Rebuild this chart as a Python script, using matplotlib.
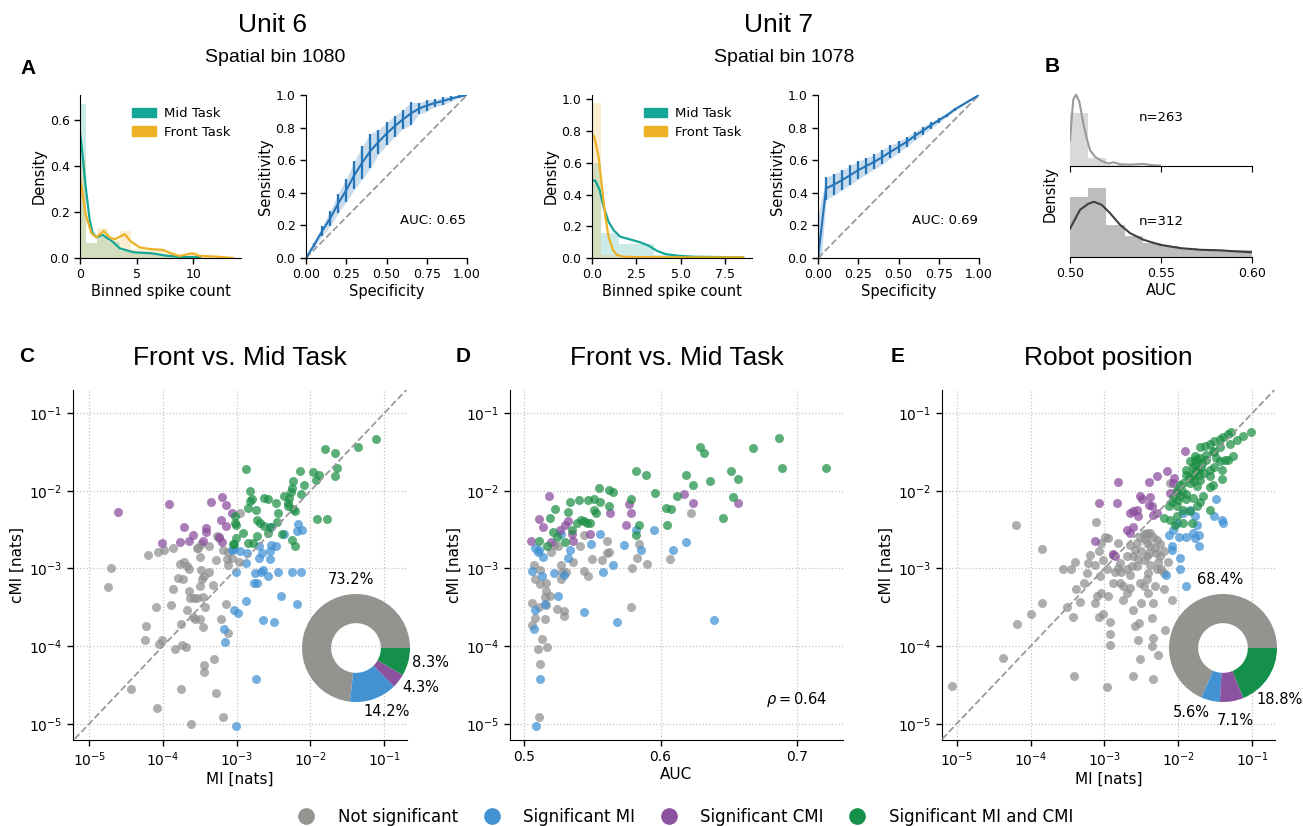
import numpy as np
import matplotlib
matplotlib.use("Agg")
import matplotlib.pyplot as plt
from matplotlib.patches import Patch
from matplotlib.lines import Line2D
from matplotlib.ticker import LogLocator, NullLocator, NullFormatter

plt.rcParams['font.family'] = 'DejaVu Sans'

# ---------------- data: panel A, unit 6 ----------------
u6_bins = [0, 1, 2, 3, 4, 5, 6, 7, 8, 9, 10, 11, 12, 13]
u6_mid_hist = [0.67, 0.065, 0.09, 0.07, 0.03, 0.02, 0.02, 0.015, 0.01, 0.005, 0.005, 0.0, 0.0, 0.0]
u6_front_hist = [0.43, 0.065, 0.13, 0.08, 0.115, 0.04, 0.035, 0.04, 0.02, 0.01, 0.025, 0.005, 0.005, 0.003]
u6_mid_kde_x = [0, 0.2, 0.5, 0.85, 1.1, 1.44, 2.0, 2.9, 3.5, 4.7, 6.4, 7.6, 9.1, 10.6]
u6_mid_kde_y = [0.545, 0.46, 0.31, 0.165, 0.11, 0.09, 0.10, 0.07, 0.042, 0.025, 0.02, 0.01, 0.004, 0.004]
u6_front_kde_x = [0, 0.5, 1.0, 1.44, 2.09, 2.62, 3.06, 3.94, 4.53, 5.26, 6.15, 7.32, 8.21, 8.79, 9.88, 10.56, 12.03, 13.5]
u6_front_kde_y = [0.35, 0.19, 0.107, 0.09, 0.117, 0.09, 0.081, 0.103, 0.07, 0.046, 0.039, 0.035, 0.017, 0.009, 0.02, 0.009, 0.006, 0.0]

roc_x = [0.0, 0.05, 0.1, 0.15, 0.2, 0.25, 0.3, 0.35, 0.4, 0.45, 0.5,
         0.55, 0.6, 0.65, 0.7, 0.75, 0.8, 0.85, 0.9, 0.95, 1.0]
roc6_y = [0.0, 0.08, 0.165, 0.243, 0.335, 0.416, 0.508, 0.586, 0.657, 0.712, 0.763,
          0.808, 0.849, 0.886, 0.916, 0.935, 0.951, 0.963, 0.978, 0.99, 1.0]
roc6_err = [0.0, 0.015, 0.03, 0.046, 0.06, 0.07, 0.087, 0.10, 0.106, 0.075, 0.07,
            0.064, 0.058, 0.07, 0.035, 0.035, 0.022, 0.023, 0.017, 0.007, 0.0]
auc6 = 0.65

# ---------------- data: panel A, unit 7 ----------------
u7_bins = [0, 1, 2, 3, 4, 5, 6, 7, 8]
u7_mid_hist = [0.60, 0.155, 0.088, 0.088, 0.02, 0.008, 0.004, 0.003, 0.002]
u7_front_hist = [0.977, 0.02, 0.005, 0.0, 0.0, 0.0, 0.0, 0.0, 0.0]
u7_mid_kde_x = [0, 0.19, 0.43, 0.65, 0.93, 1.21, 1.59, 2.15, 2.71, 3.18, 3.64, 4.11, 4.77, 5.7, 7.2, 8.5]
u7_mid_kde_y = [0.49, 0.486, 0.428, 0.323, 0.229, 0.176, 0.134, 0.117, 0.099, 0.078, 0.046, 0.025, 0.015, 0.008, 0.006, 0.004]
u7_front_kde_x = [0, 0.13, 0.37, 0.56, 0.75, 0.93, 1.18, 1.4, 1.78, 2.5, 5.3, 8.5]
u7_front_kde_y = [0.778, 0.763, 0.637, 0.449, 0.26, 0.134, 0.05, 0.019, 0.008, 0.006, 0.004, 0.004]

roc7_y = [0.0, 0.427, 0.451, 0.478, 0.508, 0.539, 0.565, 0.59, 0.62, 0.651, 0.682,
          0.712, 0.749, 0.78, 0.814, 0.845, 0.876, 0.912, 0.941, 0.971, 1.0]
roc7_err = [0.26, 0.07, 0.065, 0.06, 0.06, 0.055, 0.05, 0.045, 0.045, 0.04, 0.035,
            0.03, 0.025, 0.025, 0.02, 0.015, 0.01, 0.01, 0.005, 0.003, 0.0]
auc7 = 0.69

# ---------------- data: panel B ----------------
b_edges = [0.50, 0.51, 0.52, 0.53, 0.54, 0.55, 0.56, 0.57, 0.58, 0.59]
b_top_hist = [82, 13, 1.5, 0.5, 0.5, 0.2, 0.0, 0.0, 0.0, 0.0]
b_top_kde_x = [0.5, 0.5018, 0.5033, 0.5051, 0.5073, 0.5092, 0.5110, 0.5138, 0.5174,
               0.5211, 0.5239, 0.5275, 0.5330, 0.5404, 0.5459, 0.5495]
b_top_kde_y = [39.7, 101.7, 109.4, 99, 65.5, 42.3, 24.3, 13.9, 7.7, 3.6, 5.7, 2.6, 2.1, 3.1, 1.0, 0.5]
b_bot_hist = [21.5, 25, 11.6, 7.4, 5.0, 3.8, 3.2, 3.0, 2.6, 2.4]
b_bot_kde_x = [0.5, 0.5055, 0.5101, 0.5132, 0.5174, 0.522, 0.5275, 0.533, 0.5404,
               0.5495, 0.5606, 0.5716, 0.5826, 0.5917, 0.6]
b_bot_kde_y = [10.2, 17.0, 19.2, 19.9, 18.8, 15.8, 11.6, 8.6, 6.2, 4.4, 3.2, 2.6, 2.4, 2.0, 1.7]
b_n = [263, 312]

# ---------------- data: panel C (log10 MI, log10 cMI) ----------------
c_gray = [(-2.95, -2.29), (-4.20, -2.82), (-4.07, -2.79), (-3.98, -2.76), (-3.87, -2.73),
          (-3.54, -2.74), (-3.38, -2.71), (-3.50, -2.85), (-3.28, -2.89), (-3.13, -2.88),
          (-3.07, -2.87), (-2.97, -2.91), (-3.12, -2.96), (-4.71, -2.99), (-4.74, -3.24),
          (-3.77, -2.94), (-3.71, -2.91), (-3.68, -2.97), (-3.65, -3.01), (-3.48, -3.02),
          (-3.38, -3.04), (-3.44, -3.10), (-3.47, -3.14), (-3.79, -3.12), (-3.73, -3.14),
          (-3.86, -3.27), (-3.64, -3.29), (-3.32, -3.21), (-3.50, -3.22), (-3.63, -3.38),
          (-3.58, -3.38), (-3.54, -3.38), (-3.46, -3.37), (-4.09, -3.49), (-3.89, -3.47),
          (-3.43, -3.50), (-3.15, -3.46), (-3.67, -3.54), (-3.59, -3.62), (-3.56, -3.65),
          (-3.50, -3.65), (-3.76, -3.72), (-3.46, -3.76), (-4.23, -3.74), (-3.21, -3.65),
          (-3.12, -3.83), (-4.24, -3.92), (-4.06, -3.97), (-4.01, -3.92), (-3.84, -4.04),
          (-3.74, -3.99), (-3.69, -4.01), (-3.31, -4.17), (-3.44, -4.24), (-3.45, -4.33),
          (-4.43, -4.55), (-3.75, -4.55), (-3.28, -4.60), (-4.08, -4.80), (-3.62, -5.00),
          (-3.19, -4.91), (-3.18, -2.76), (-3.12, -2.79), (-3.27, -2.58), (-3.24, -2.61),
          (-3.49, -2.68), (-3.53, -2.73)]
c_blue = [(-2.17, -2.43), (-2.18, -2.52), (-2.11, -2.50), (-2.36, -2.56), (-2.54, -2.47),
          (-2.53, -2.70), (-2.46, -2.71), (-2.65, -2.80), (-2.55, -2.77), (-2.55, -2.88),
          (-2.70, -2.71), (-2.86, -2.80), (-2.70, -2.86), (-2.96, -2.78), (-3.07, -2.76),
          (-3.04, -2.75), (-2.88, -2.93), (-3.01, -3.04), (-2.75, -3.06), (-2.67, -3.05),
          (-2.64, -3.02), (-2.58, -3.10), (-2.44, -3.04), (-2.25, -3.04), (-2.13, -3.05),
          (-2.77, -3.19), (-2.72, -3.19), (-2.40, -3.35), (-2.18, -3.46), (-2.88, -3.42),
          (-3.04, -3.54), (-2.98, -3.57), (-2.64, -3.66), (-2.50, -3.69), (-3.17, -3.78),
          (-3.16, -3.95), (-2.74, -4.43), (-3.01, -5.03)]
c_purple = [(-4.61, -2.27), (-3.92, -2.17), (-3.35, -2.14), (-3.20, -2.08), (-3.14, -2.18),
            (-3.06, -2.29), (-3.21, -2.37), (-3.15, -2.45), (-3.72, -2.47), (-3.42, -2.48),
            (-3.59, -2.57), (-3.41, -2.53), (-4.01, -2.67), (-3.77, -2.66), (-3.64, -2.65),
            (-3.46, -2.64), (-3.24, -2.59), (-3.20, -2.66)]
c_green = [(-1.11, -1.33), (-1.80, -1.46), (-1.66, -1.51), (-1.35, -1.44), (-2.88, -1.72),
           (-2.14, -1.75), (-1.96, -1.76), (-1.88, -1.80), (-1.64, -1.71), (-1.93, -1.86),
           (-1.66, -1.81), (-2.23, -1.87), (-2.09, -1.93), (-2.25, -1.96), (-2.27, -2.01),
           (-2.13, -2.04), (-2.36, -2.07), (-2.29, -2.09), (-2.82, -2.00), (-2.82, -2.13),
           (-2.79, -2.11), (-2.85, -2.22), (-2.63, -2.09), (-2.57, -2.11), (-2.47, -2.15),
           (-2.30, -2.16), (-2.30, -2.20), (-2.23, -2.23), (-2.21, -2.26), (-2.74, -2.25),
           (-2.44, -2.29), (-2.73, -2.38), (-2.69, -2.42), (-3.02, -2.32), (-3.02, -2.41),
           (-3.01, -2.44), (-2.63, -2.45), (-2.55, -2.47), (-2.45, -2.40), (-1.91, -2.36),
           (-1.77, -2.36), (-2.91, -2.54), (-2.73, -2.58), (-2.57, -2.54), (-2.38, -2.56),
           (-2.25, -2.63), (-2.21, -2.71), (-3.01, -2.61), (-3.03, -2.68), (-3.05, -2.69),
           (-2.84, -2.67), (-2.78, -2.67)]
c_pie = [73.2, 14.2, 4.3, 8.3]

# ---------------- data: panel D (AUC, log10 cMI) ----------------
d_gray = [(0.507, -2.96), (0.512, -3.02), (0.508, -3.13), (0.512, -3.20), (0.516, -3.19),
          (0.516, -3.29), (0.519, -3.36), (0.515, -3.37), (0.516, -3.47), (0.511, -3.49),
          (0.506, -3.45), (0.508, -3.64), (0.506, -3.73), (0.515, -3.65), (0.513, -3.91),
          (0.510, -4.04), (0.517, -4.01), (0.512, -4.23), (0.511, -4.91), (0.520, -2.79),
          (0.525, -2.71), (0.527, -2.96), (0.528, -3.04), (0.527, -3.14), (0.531, -3.04),
          (0.524, -3.52), (0.529, -3.55), (0.529, -3.61), (0.536, -2.91), (0.541, -2.71),
          (0.544, -2.57), (0.550, -2.88), (0.544, -3.03), (0.547, -3.10), (0.557, -2.89),
          (0.561, -2.80), (0.561, -2.65), (0.562, -2.79), (0.579, -3.00), (0.578, -3.50),
          (0.583, -2.87), (0.584, -2.68), (0.590, -2.94), (0.607, -2.88), (0.622, -2.29),
          (0.522, -2.70)]
d_blue = [(0.508, -2.74), (0.511, -2.76), (0.510, -2.79), (0.514, -2.85), (0.527, -2.56),
          (0.534, -2.76), (0.532, -2.87), (0.549, -2.68), (0.556, -2.55), (0.573, -2.70),
          (0.582, -2.50), (0.586, -2.76), (0.595, -2.51), (0.609, -2.76), (0.619, -2.66),
          (0.565, -2.95), (0.558, -3.05), (0.506, -3.03), (0.513, -3.10), (0.522, -3.06),
          (0.529, -3.08), (0.525, -3.35), (0.515, -3.46), (0.508, -3.54), (0.507, -3.78),
          (0.544, -3.56), (0.568, -3.69), (0.639, -3.66), (0.512, -4.42), (0.509, -5.03)]
d_purple = [(0.518, -2.07), (0.511, -2.36), (0.514, -2.47), (0.505, -2.64), (0.532, -2.39),
            (0.530, -2.44), (0.526, -2.50), (0.520, -2.66), (0.536, -2.65), (0.535, -2.55),
            (0.548, -2.56), (0.563, -2.28), (0.577, -2.17), (0.578, -2.28), (0.575, -2.44),
            (0.617, -2.04), (0.624, -2.15), (0.657, -2.16)]
d_green = [(0.6866, -1.32), (0.668, -1.45), (0.6286, -1.44), (0.632, -1.51), (0.689, -1.70),
           (0.7213, -1.71), (0.582, -1.74), (0.589, -1.80), (0.619, -1.79), (0.652, -1.75),
           (0.657, -1.85), (0.636, -1.87), (0.624, -1.92), (0.555, -1.96), (0.562, -1.99),
           (0.565, -2.02), (0.596, -2.03), (0.612, -2.06), (0.578, -2.10), (0.653, -2.08),
           (0.551, -2.10), (0.547, -2.12), (0.540, -2.12), (0.534, -2.14), (0.556, -2.14),
           (0.562, -2.19), (0.551, -2.24), (0.553, -2.28), (0.532, -2.27), (0.523, -2.23),
           (0.604, -2.22), (0.608, -2.23), (0.519, -2.35), (0.539, -2.41), (0.542, -2.38),
           (0.544, -2.39), (0.546, -2.41), (0.548, -2.42), (0.584, -2.44), (0.605, -2.44),
           (0.646, -2.35), (0.521, -2.53), (0.535, -2.51), (0.582, -2.57), (0.524, -2.59),
           (0.530, -2.66), (0.511, -2.65), (0.517, -2.71)]
d_rho = 0.64

# ---------------- data: panel E (log10 MI, log10 cMI) ----------------
e_gray = [(-5.06, -4.51), (-4.20, -2.44), (-3.84, -2.75), (-4.37, -4.15), (-4.19, -3.72),
          (-3.99, -3.59), (-3.84, -3.44), (-3.41, -4.39), (-2.97, -4.53), (-3.56, -3.01),
          (-3.45, -3.01), (-3.40, -2.92), (-3.39, -3.26), (-3.42, -3.62), (-3.33, -3.43),
          (-3.51, -3.49), (-3.28, -3.19), (-3.24, -3.06), (-3.22, -2.93), (-3.20, -2.82),
          (-3.13, -2.95), (-3.11, -2.40), (-3.08, -2.78), (-3.04, -2.67), (-2.99, -2.59),
          (-2.95, -2.61), (-3.02, -2.89), (-3.06, -3.10), (-3.07, -3.62), (-3.13, -3.44),
          (-3.10, -3.36), (-3.04, -3.32), (-3.02, -3.59), (-2.95, -3.36), (-2.93, -3.69),
          (-2.93, -3.84), (-2.93, -3.98), (-2.88, -2.82), (-2.86, -3.04), (-2.81, -2.67),
          (-2.81, -2.99), (-2.79, -3.19), (-2.77, -3.04), (-2.75, -3.23), (-2.75, -3.40),
          (-2.69, -3.31), (-2.66, -3.25), (-2.66, -3.08), (-2.63, -2.97), (-2.61, -2.84),
          (-2.59, -2.76), (-2.56, -2.67), (-2.52, -2.59), (-2.47, -2.56), (-2.43, -2.54),
          (-2.38, -2.54), (-2.34, -2.59), (-2.29, -2.63), (-2.25, -2.69), (-2.20, -2.78),
          (-2.61, -3.53), (-2.59, -3.74), (-2.54, -3.92), (-2.52, -4.17), (-2.50, -3.44),
          (-2.47, -3.23), (-2.43, -3.14), (-2.41, -3.06), (-2.38, -2.95), (-2.36, -3.64),
          (-2.34, -3.44), (-2.32, -3.23), (-2.29, -3.01), (-2.27, -2.91), (-2.25, -2.84),
          (-2.23, -3.01), (-2.20, -3.27), (-2.18, -3.79), (-2.34, -3.89), (-2.36, -4.00),
          (-2.43, -2.84), (-2.47, -2.89), (-2.50, -2.78), (-2.56, -2.97), (-2.70, -2.84),
          (-2.61, -4.39), (-2.34, -4.43), (-2.28, -4.12), (-2.38, -2.71), (-2.32, -2.74),
          (-2.70, -3.01), (-2.79, -2.93), (-2.88, -3.19), (-2.97, -3.01), (-2.53, -3.70),
          (-2.09, -3.41), (-2.19, -3.06), (-2.14, -2.91), (-2.43, -2.67), (-2.52, -3.19),
          (-2.41, -3.32), (-2.11, -1.90), (-2.45, -2.62), (-2.40, -2.80), (-2.55, -2.88),
          (-2.30, -2.80), (-2.65, -2.70)]
e_blue = [(-1.49, -2.11), (-1.52, -2.32), (-1.41, -2.38), (-1.39, -2.41), (-1.78, -2.33),
          (-1.75, -2.44), (-1.80, -2.54), (-1.72, -2.57), (-1.78, -2.61), (-1.72, -2.71),
          (-1.89, -2.59), (-1.99, -2.60), (-2.12, -2.57), (-2.07, -2.50), (-2.02, -2.41),
          (-2.09, -2.71), (-2.08, -2.76), (-1.98, -2.87), (-1.97, -3.01), (-2.17, -3.09),
          (-1.89, -3.23), (-1.93, -2.29), (-1.84, -2.24)]
e_purple = [(-1.91, -1.48), (-2.82, -1.88), (-3.07, -2.16), (-2.83, -2.16), (-3.13, -2.64),
            (-2.39, -1.88), (-2.29, -1.81), (-2.15, -1.74), (-2.06, -1.83), (-2.52, -2.07),
            (-2.49, -2.11), (-2.38, -2.08), (-2.35, -2.19), (-2.39, -2.18), (-2.66, -2.29),
            (-2.61, -2.26), (-2.56, -2.24), (-2.54, -2.33), (-2.34, -2.31), (-2.29, -2.29),
            (-2.70, -2.50), (-2.66, -2.54), (-2.61, -2.46), (-2.86, -2.84), (-2.89, -2.81),
            (-2.07, -1.90), (-2.02, -2.01), (-2.11, -2.03)]
e_green = [(-1.02, -1.24), (-1.12, -1.29), (-1.21, -1.34), (-1.28, -1.24), (-1.32, -1.27),
           (-1.39, -1.30), (-1.44, -1.33), (-1.51, -1.36), (-1.57, -1.39), (-1.64, -1.42),
           (-1.71, -1.44), (-1.43, -1.43), (-1.53, -1.49), (-1.63, -1.54), (-1.71, -1.57),
           (-1.78, -1.60), (-1.84, -1.62), (-1.80, -1.69), (-1.73, -1.73), (-1.65, -1.77),
           (-1.57, -1.73), (-1.41, -1.73), (-1.32, -1.60), (-1.43, -1.62), (-1.51, -1.69),
           (-1.57, -1.81), (-1.41, -1.85), (-1.53, -1.92), (-1.57, -1.95), (-1.71, -1.86),
           (-1.80, -1.81), (-1.89, -1.79), (-1.84, -1.90), (-1.93, -1.90), (-1.98, -1.92),
           (-1.75, -1.94), (-1.66, -2.07), (-1.80, -2.09), (-1.89, -2.11), (-1.98, -2.07),
           (-2.07, -2.09), (-2.12, -2.20), (-2.02, -2.20), (-1.93, -2.24), (-1.84, -2.26),
           (-1.75, -2.20), (-1.71, -2.14), (-1.57, -2.24), (-2.20, -2.35), (-2.11, -2.37),
           (-2.02, -2.33), (-1.93, -2.41), (-2.05, -2.44), (-1.82, -2.41), (-1.51, -1.50),
           (-1.30, -1.39), (-1.26, -1.55), (-1.37, -1.60), (-1.49, -1.57), (-1.74, -1.59),
           (-1.69, -1.69), (-1.89, -1.73), (-2.02, -1.99), (-2.09, -2.14), (-1.78, -1.66),
           (-1.76, -1.75), (-1.82, -1.78), (-1.86, -1.84), (-1.79, -1.87), (-1.72, -1.80),
           (-1.68, -1.64), (-1.77, -1.55), (-1.62, -1.60), (-1.95, -2.00), (-1.90, -2.04),
           (-2.00, -2.12)]
e_pie = [68.4, 5.6, 7.1, 18.8]

legend_labels = ['Not significant', 'Significant MI', 'Significant CMI', 'Significant MI and CMI']

# ---------------- style ----------------
TEAL = '#14a697'
ORANGE = '#edb125'
ROC_BLUE = '#2574b8'
cat_colors = ['#939490', '#4393d3', '#8b52a0', '#15904a']
sc_colors = ['#8f8f8f', '#3f90d4', '#8a4b9e', '#1d8f45']
TITLE_FONT = 'Liberation Sans'

W, H = 1303, 826
fig = plt.figure(figsize=(W / 100, H / 100), dpi=100)


def px_axes(l, t, r, b):
    return fig.add_axes([l / W, 1 - b / H, (r - l) / W, (b - t) / H])


def px_text(x, y, s, **kw):
    fig.text(x / W, 1 - y / H, s, ha='center', va='center', **kw)


def clean(ax, size=9):
    ax.spines['top'].set_visible(False)
    ax.spines['right'].set_visible(False)
    ax.tick_params(labelsize=size, length=4, width=1, direction='out')


def hist_panel(ax, bins, mid_h, front_h, mid_kx, mid_ky, front_kx, front_ky, xlim, ylim, xticks, yticks, legend_anchor):
    ax.bar(bins, mid_h, width=1.0, color=TEAL, alpha=0.22, linewidth=0)
    ax.bar(bins, front_h, width=1.0, color=ORANGE, alpha=0.22, linewidth=0)
    ax.plot(mid_kx, mid_ky, color=TEAL, lw=1.6)
    ax.plot(front_kx, front_ky, color=ORANGE, lw=1.6)
    ax.set_xlim(*xlim)
    ax.set_ylim(*ylim)
    ax.set_xticks(xticks)
    ax.set_yticks(yticks)
    ax.set_xlabel('Binned spike count', fontsize=10.5, labelpad=2)
    ax.set_ylabel('Density', fontsize=10.5, labelpad=2)
    clean(ax)
    ax.legend(handles=[Patch(color=TEAL), Patch(color=ORANGE)], labels=['Mid Task', 'Front Task'],
              loc='upper left', bbox_to_anchor=legend_anchor, frameon=False, fontsize=9.5,
              handlelength=1.8, handletextpad=0.6, labelspacing=0.45, borderaxespad=0)


def roc_panel(ax, y, err, auc):
    y = np.array(y)
    err = np.array(err)
    ax.plot([0, 1], [0, 1], ls='--', color='#9a9a9a', lw=1.3)
    ax.fill_between(roc_x, y - err, y + err, color=ROC_BLUE, alpha=0.25, linewidth=0)
    ax.errorbar(roc_x, y, yerr=err, color=ROC_BLUE, lw=1.5, elinewidth=1.6, capsize=0)
    ax.set_xlim(0, 1)
    ax.set_ylim(0, 1)
    ax.set_xticks([0, 0.25, 0.5, 0.75, 1.0])
    ax.set_xticklabels(['0.00', '0.25', '0.50', '0.75', '1.00'])
    ax.set_yticks([0, 0.2, 0.4, 0.6, 0.8, 1.0])
    ax.set_xlabel('Specificity', fontsize=10.5, labelpad=2)
    ax.set_ylabel('Sensitivity', fontsize=10.5, labelpad=2)
    ax.text(0.995, 0.23, f'AUC: {auc:.2f}', transform=ax.transAxes, ha='right', va='center', fontsize=9.5)
    clean(ax)


# ---------------- row A ----------------
ax1 = px_axes(80, 95, 241, 258)
hist_panel(ax1, u6_bins, u6_mid_hist, u6_front_hist, u6_mid_kde_x, u6_mid_kde_y,
           u6_front_kde_x, u6_front_kde_y, (0, 14.2), (0, 0.707), [0, 5, 10], [0, 0.2, 0.4, 0.6], (0.29, 0.96))
ax1.set_yticklabels(['0.0', '0.2', '0.4', '0.6'])

ax2 = px_axes(306, 95, 467, 258)
roc_panel(ax2, roc6_y, roc6_err, auc6)

ax3 = px_axes(592, 95, 752, 258)
hist_panel(ax3, u7_bins, u7_mid_hist, u7_front_hist, u7_mid_kde_x, u7_mid_kde_y,
           u7_front_kde_x, u7_front_kde_y, (0, 9.0), (0, 1.027), [0, 2.5, 5.0, 7.5],
           [0, 0.2, 0.4, 0.6, 0.8, 1.0], (0.29, 0.96))
ax3.set_xticklabels(['0.0', '2.5', '5.0', '7.5'])

ax4 = px_axes(818, 95, 979, 258)
roc_panel(ax4, roc7_y, roc7_err, auc7)

px_text(272, 25, 'Unit 6', fontsize=19, family=TITLE_FONT)
px_text(275, 58, 'Spatial bin 1080', fontsize=14, family=TITLE_FONT)
px_text(779, 25, 'Unit 7', fontsize=19, family=TITLE_FONT)
px_text(784, 58, 'Spatial bin 1078', fontsize=14, family=TITLE_FONT)

# ---------------- panel B ----------------
bt = px_axes(1070, 91, 1252, 166)
bb = px_axes(1070, 184, 1252, 257)
bt.bar(b_edges, b_top_hist, width=0.01, align='edge', color='#d9d9d9', linewidth=0)
bt.plot(b_top_kde_x, b_top_kde_y, color='#9a9a9a', lw=1.5)
bb.bar(b_edges, b_bot_hist, width=0.01, align='edge', color='#bdbdbd', linewidth=0)
bb.plot(b_bot_kde_x, b_bot_kde_y, color='#3f3f3f', lw=1.5)
bt.set_ylim(0, 115)
bb.set_ylim(0, 26.3)
for ax in (bt, bb):
    ax.set_xlim(0.5, 0.6)
    ax.set_xticks([0.5, 0.55, 0.6])
    ax.set_yticks([])
    for s in ('top', 'right', 'left'):
        ax.spines[s].set_visible(False)
    ax.tick_params(labelsize=9, length=4)
bt.set_xticklabels([])
bb.set_xticklabels(['0.50', '0.55', '0.60'])
bb.set_xlabel('AUC', fontsize=10.5, labelpad=2)
bt.text(0.5, 0.64, f'n={b_n[0]}', transform=bt.transAxes, ha='center', va='center', fontsize=9.5)
bb.text(0.5, 0.49, f'n={b_n[1]}', transform=bb.transAxes, ha='center', va='center', fontsize=9.5)
fig.text(1050 / W, 1 - 194 / H, 'Density', rotation=90, ha='center', va='center', fontsize=10.5)

# ---------------- panels C, D, E ----------------
LOGLIM = (10 ** -5.21, 10 ** -0.70)


def scatter_cats(ax, groups, logx):
    for pts, col in zip(groups, sc_colors):
        arr = np.array(pts)
        xs = 10 ** arr[:, 0] if logx else arr[:, 0]
        ax.scatter(xs, 10 ** arr[:, 1], s=42, color=col, alpha=0.72, linewidths=0, zorder=3)


def style_scatter(ax, logx):
    ax.set_yscale('log')
    ax.set_ylim(*LOGLIM)
    ax.yaxis.set_major_locator(LogLocator(base=10, numticks=10))
    ax.yaxis.set_minor_locator(NullLocator())
    if logx:
        ax.set_xscale('log')
        ax.xaxis.set_major_locator(LogLocator(base=10, numticks=10))
        ax.xaxis.set_minor_locator(NullLocator())
        ax.xaxis.set_minor_formatter(NullFormatter())
    ax.yaxis.set_minor_formatter(NullFormatter())
    ax.grid(True, ls=':', color='#c4c4c4', lw=0.9, zorder=0)
    ax.set_axisbelow(True)
    ax.set_ylabel('cMI [nats]', fontsize=11, labelpad=3)
    clean(ax, size=10)


def pie_inset(cx, cy, r, vals, label_pos):
    pax = px_axes(cx - r, cy - r, cx + r, cy + r)
    pax.pie(vals, colors=cat_colors, startangle=0, counterclock=True, radius=1.0,
            wedgeprops=dict(width=0.54, linewidth=0))
    pax.set_xlim(-1, 1)
    pax.set_ylim(-1, 1)
    pax.set_aspect('equal')
    pax.axis('off')
    for v, (lx, ly) in zip(vals, label_pos):
        pax.text(lx, ly, f'{v:.1f}%', ha='center', va='center', fontsize=10.5, clip_on=False)


axC = px_axes(73, 390, 407, 740)
scatter_cats(axC, [c_gray, c_blue, c_purple, c_green], True)
axC.plot([1e-6, 1], [1e-6, 1], ls='--', color='#9a9a9a', lw=1.3, zorder=4)
style_scatter(axC, True)
axC.set_xlim(10 ** -5.22, 10 ** -0.69)
axC.set_xlabel('MI [nats]', fontsize=11, labelpad=2)
axC.set_title('Front vs. Mid Task', fontsize=19, family=TITLE_FONT, pad=18)
pie_inset(356, 648, 54, c_pie, [(-0.09, 1.26), (0.56, -1.17), (1.19, -0.74), (1.37, -0.26)])

axD = px_axes(510, 390, 843, 740)
scatter_cats(axD, [d_gray, d_blue, d_purple, d_green], False)
style_scatter(axD, False)
axD.set_xlim(0.4897, 0.7337)
axD.set_xticks([0.5, 0.6, 0.7])
axD.set_xlabel('AUC', fontsize=11, labelpad=2)
axD.set_title('Front vs. Mid Task', fontsize=19, family=TITLE_FONT, pad=18)
axD.text(0.86, 0.115, rf'$\rho = {d_rho:.2f}$', transform=axD.transAxes, ha='center', va='center', fontsize=10.5)

axE = px_axes(942, 390, 1275, 740)
scatter_cats(axE, [e_gray, e_blue, e_purple, e_green], True)
axE.plot([1e-6, 1], [1e-6, 1], ls='--', color='#9a9a9a', lw=1.3, zorder=4)
style_scatter(axE, True)
axE.set_xlim(10 ** -5.2, 10 ** -0.69)
axE.set_xlabel('MI [nats]', fontsize=11, labelpad=2)
axE.set_title('Robot position', fontsize=19, family=TITLE_FONT, pad=18)
pie_inset(1223, 648, 54, e_pie, [(-0.06, 1.26), (-0.59, -1.20), (0.22, -1.35), (1.04, -0.96)])

# panel letters
for letter, (x, y) in zip('ABCDE', [(28, 69), (1052, 67), (27, 357), (463, 357), (898, 357)]):
    px_text(x, y, letter, fontsize=15, fontweight='bold', family=TITLE_FONT)

# shared legend
handles = [Line2D([], [], marker='o', ls='', markersize=11, color=c) for c in cat_colors]
fig.legend(handles, legend_labels, loc='center', bbox_to_anchor=(0.523, 1 - 817 / H), ncol=4,
           frameon=False, fontsize=12, handletextpad=0.9, columnspacing=1.0)

fig.savefig('out.png', dpi=100)
